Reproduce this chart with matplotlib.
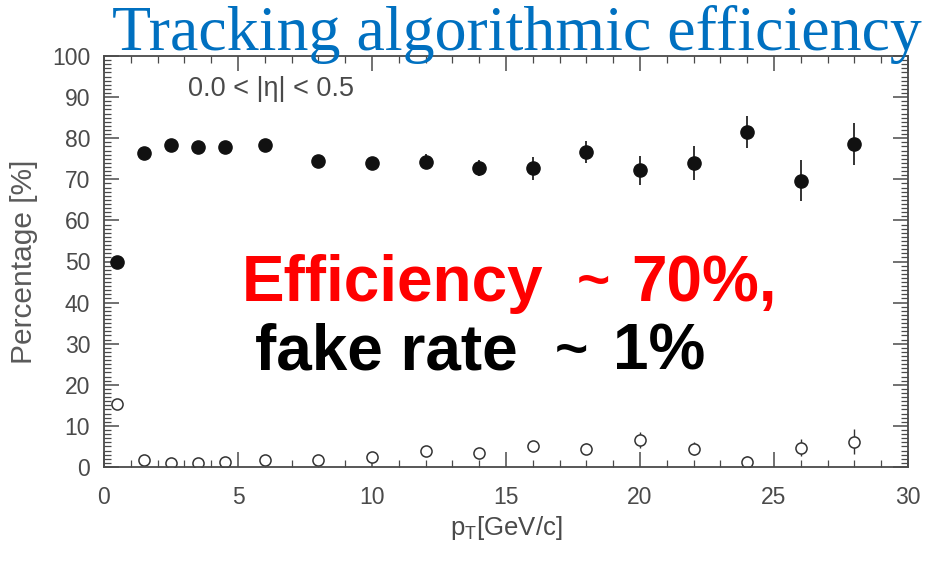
import matplotlib
matplotlib.use('Agg')
import matplotlib.pyplot as plt
from matplotlib import font_manager
from matplotlib.ticker import MultipleLocator

# ── data ─────────────────────────────────────────────────────────────────────
pt = [0.5, 1.5, 2.5, 3.5, 4.5, 6, 8, 10, 12, 14, 16, 18, 20, 22, 24, 26, 28]
eff = [50.0, 76.5, 78.3, 77.9, 77.9, 78.3, 74.5, 73.9, 74.3, 72.8, 72.7,
       76.6, 72.2, 74.0, 81.5, 69.6, 78.6]
eff_err = [1.0, 1.0, 1.0, 1.0, 1.0, 1.2, 1.5, 1.5, 1.8, 2.0, 2.8,
           2.7, 3.5, 4.2, 3.9, 5.0, 5.2]
fake = [15.3, 1.7, 1.0, 1.0, 1.2, 1.7, 1.7, 2.4, 4.0, 3.5, 5.1,
        4.5, 6.6, 4.5, 1.3, 4.7, 6.2]
fake_err = [0.8, 0.5, 0.5, 0.5, 0.5, 0.6, 0.6, 1.0, 1.0, 1.2, 1.2,
            1.3, 2.0, 1.5, 1.3, 2.0, 3.0]

names = {f.name for f in font_manager.fontManager.ttflist}
narrow = 'Liberation Sans Narrow' in names
plt.rcParams['font.family'] = ['Liberation Sans Narrow' if narrow else 'Liberation Sans',
                               'DejaVu Sans']
plt.rcParams['mathtext.fontset'] = 'custom'
plt.rcParams['mathtext.rm'] = plt.rcParams['font.family'][0]

W, H = 927, 561
fig = plt.figure(figsize=(W / 100, H / 100), dpi=100)
ax = fig.add_axes([104 / W, 1 - 467 / H, (908 - 104) / W, (467 - 56) / H])

grey = '#4a4a4a'
tsize = 20 if narrow else 16.5
ax.errorbar(pt, eff, yerr=eff_err, fmt='o', color='#111111', ms=9.5,
            elinewidth=1.2, capsize=0)
ax.errorbar(pt, fake, yerr=fake_err, fmt='o', color='#333333', mfc='white',
            ms=8, mew=1.1, elinewidth=1.0, capsize=0)

ax.set_xlim(0, 30)
ax.set_ylim(0, 100)
ax.xaxis.set_major_locator(MultipleLocator(5))
ax.xaxis.set_minor_locator(MultipleLocator(1))
ax.yaxis.set_major_locator(MultipleLocator(10))
ax.yaxis.set_minor_locator(MultipleLocator(1))
ax.tick_params(which='both', direction='in', top=True, right=True,
               color=grey, labelcolor=grey)
ax.tick_params(which='major', length=11, width=1.1, labelsize=tsize)
ax.tick_params(axis='x', which='major', pad=14)
ax.tick_params(axis='y', which='major', pad=10)
ax.tick_params(which='minor', length=5, width=0.9)
for s in ax.spines.values():
    s.set_color(grey)
    s.set_linewidth(1.3)

ax.set_xlabel(r'p$_\mathregular{T}$[GeV/c]', color=grey, fontsize=tsize + 2,
              labelpad=3)
ax.set_ylabel('Percentage [%]', color='#5a5a5a', fontsize=tsize + 5, labelpad=10)
ax.text(0.104, 0.92, '0.0 < |η| < 0.5', transform=ax.transAxes,
        color=grey, fontsize=tsize + 3, va='center')

# ── overlaid slide text ──────────────────────────────────────────────────────
def ftext(x, y, s, **kw):
    fig.text(x / W, 1 - y / H, s, va='baseline', ha='left', **kw)

ftext(112, 50, 'Tracking algorithmic efficiency', color='#0070C0',
      fontsize=46, family='Liberation Serif')
bold = dict(family='Liberation Sans', fontweight='bold', fontsize=46)
tilde = dict(family='Liberation Sans', fontweight='bold', fontsize=41)
ftext(242, 301, 'Efficiency', color='#ff0000', **bold)
ftext(577, 299, '~', color='#ff0000', **tilde)
ftext(631, 301, '70%,', color='#ff0000', **bold)
ftext(255, 370, 'fake rate', color='black', **bold)
ftext(555, 368, '~', color='black', **tilde)
ftext(613, 370, '1%', color='black', **bold)

fig.savefig('out.png', dpi=100)
